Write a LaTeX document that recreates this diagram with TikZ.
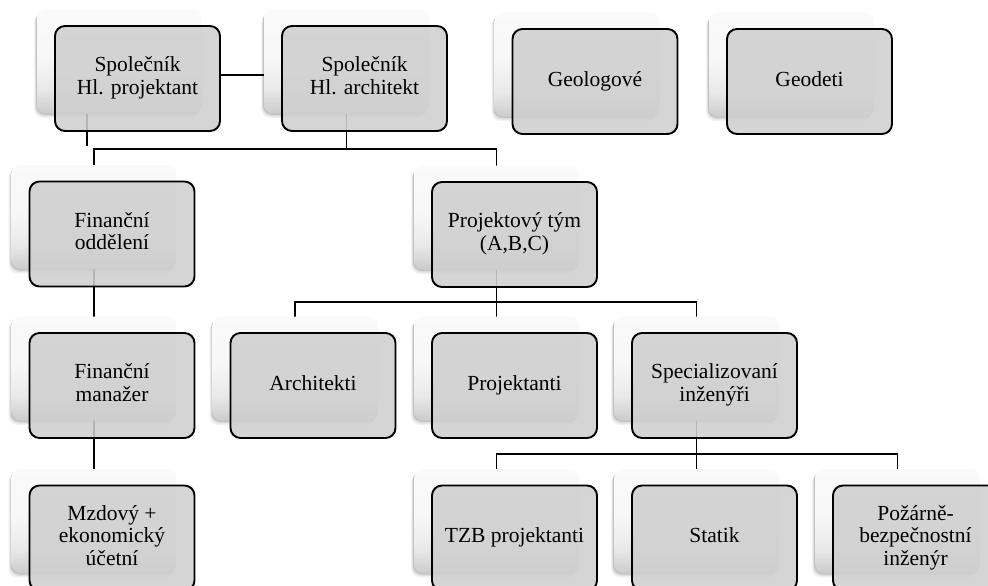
\documentclass[tikz,border=0pt]{standalone}
\usepackage{fontspec}
\setmainfont{Liberation Serif}
\usetikzlibrary{shadows}

\pgfdeclarelayer{wires}
\pgfsetlayers{wires,main}

% soft grey-to-white fill of the panels behind each card
\pgfdeclareverticalshading{panelshade}{100bp}{%
  color(0bp)=(gray!40); color(25bp)=(gray!40); color(37bp)=(gray!17);
  color(52bp)=(gray!6); color(75bp)=(gray!4); color(100bp)=(gray!4)}

\tikzset{
  panel/.style={shading=panelshade, rounded corners=9pt,
    minimum width=165pt, minimum height=104pt, inner sep=0pt,
    drop shadow={shadow xshift=-1pt, shadow yshift=-1.5pt, opacity=0.12, fill=black},
    drop shadow={shadow xshift=-2pt, shadow yshift=-3pt, opacity=0.08, fill=black},
    drop shadow={shadow xshift=-3pt, shadow yshift=-4.5pt, opacity=0.05, fill=black}},
  card/.style={draw=black, line width=1.9pt, fill=gray!38, fill opacity=0.88,
    text opacity=1, rounded corners=10pt, minimum width=165pt,
    minimum height=105pt, inner sep=0pt, align=center,
    font=\fontsize{21.5}{22.5}\selectfont},
  wire/.style={line width=1.9pt, line cap=rect}
}

% every text line gets the same height and depth
\newcommand\tl{\strut}

% a card together with its backing panel (offset up and to the left)
\newcommand\orgunit[4]{%
  \node[panel] (#1b) at (#2-18,#3-17) {};
  \node[card] (#1) at (#2,#3) {#4};}

\begin{document}
\begin{tikzpicture}[x=1pt,y=-1pt]
\useasboundingbox (0,0) rectangle (988,586);
\clip (0,0) rectangle (988,586);

% top row
\orgunit{p1}{137.5}{78.5}{\tl Společník\\\tl Hl. projektant}
\orgunit{p2}{364.5}{78.5}{\tl Společník\\\tl Hl. architekt}
\orgunit{geol}{595}{81.5}{\tl Geologové}
\orgunit{geod}{809.5}{81.5}{\tl Geodeti}

% second row
\orgunit{fin}{112}{234}{\tl Finanční\\\tl oddělení}
\orgunit{proj}{514.5}{234.5}{\tl Projektový tým\\\tl (A,B,C)}

% third row
\orgunit{man}{112}{385.5}{\tl Finanční\\\tl manažer}
\orgunit{arch}{313}{385.5}{\tl Architekti}
\orgunit{prj}{514.5}{385.5}{\tl Projektanti}
\orgunit{spec}{714.5}{385.5}{\tl Specializovaní\\\tl inženýři}

% bottom row
\orgunit{mzd}{112}{538}{\tl Mzdový +\\\tl ekonomický\\\tl účetní}
\orgunit{tzb}{514.5}{538}{\tl TZB projektanti}
\orgunit{stat}{714.5}{538}{\tl Statik}
\orgunit{poz}{915.5}{538}{\tl Požárně-\\\tl bezpečnostní\\\tl inženýr}

% connectors, kept underneath the cards
\begin{pgfonlayer}{wires}
  \draw[wire] ([yshift=3.5pt]p1.east) -- ([yshift=3.5pt]p2.west);
  \draw[wire] ([xshift=-32.5pt]p1b.south) -- ++(0,31);

  \draw[wire] (p2b.south) -- ++(0,35) coordinate (j1);
  \draw[wire] (finb.north) |- (j1) -| (projb.north);

  \draw[wire] (finb.south) -- (manb.north);
  \draw[wire] (manb.south) -- (mzdb.north);

  \draw[wire] (projb.south) -- ++(0,32) coordinate (j2);
  \draw[wire] (archb.north) |- (j2) -| (specb.north);
  \draw[wire] (j2) -- (prjb.north);

  \draw[wire] (specb.south) -- ++(0,33) coordinate (j3);
  \draw[wire] (tzbb.north) |- (j3) -| (pozb.north);
  \draw[wire] (j3) -- (statb.north);
\end{pgfonlayer}
\end{tikzpicture}
\end{document}
